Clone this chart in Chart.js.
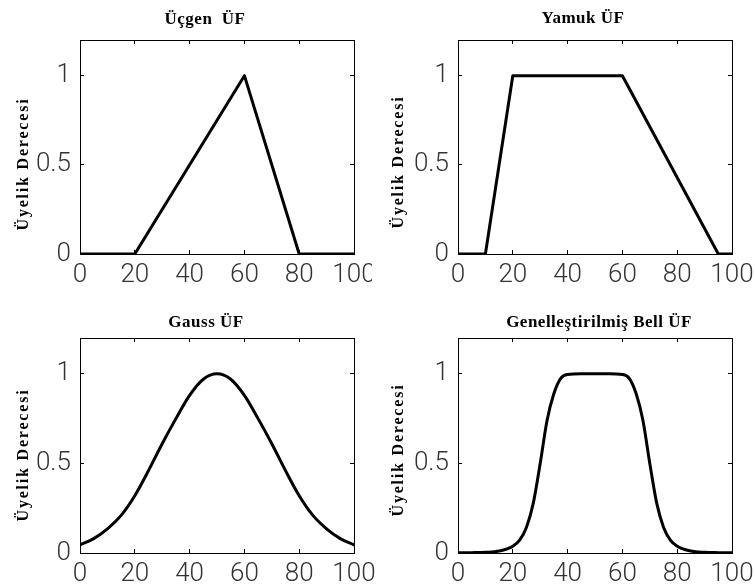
<!DOCTYPE html>
<html lang="tr">
<head>
<meta charset="UTF-8">
<title>Üyelik Fonksiyonları</title>
<script src="https://cdn.jsdelivr.net/npm/chart.js"></script>
<style>
  html, body { margin: 0; padding: 0; background: #fff; }
  body { width: 755px; height: 588px; position: relative; overflow: hidden; }
  .panel { position: absolute; left: 0; top: 0; height: 600px; overflow: hidden; }
  .panel canvas { display: block; }
</style>
</head>
<body>
  <div class="panel" style="width:372px"><canvas id="ucgen" width="800" height="600"></canvas></div>
  <div class="panel" style="width:800px"><canvas id="yamuk" width="800" height="600"></canvas></div>
  <div class="panel" style="width:800px"><canvas id="gauss" width="800" height="600"></canvas></div>
  <div class="panel" style="width:800px"><canvas id="bell" width="800" height="600"></canvas></div>

<script>
  // shared axes
  const xTicks = [0, 20, 40, 60, 80, 100];
  const yTicks = [0, 0.5, 1];

  // triangle MF
  const ucgenX = [0, 20, 60, 80, 100];
  const ucgenY = [0, 0, 1, 0, 0];

  // trapezoid MF
  const yamukX = [0, 10, 20, 60, 95, 100];
  const yamukY = [0, 0, 1, 1, 0, 0];

  // gaussian MF
  const gaussX = [0, 5, 10, 15, 20, 25, 30, 35, 40, 45, 50, 55, 60, 65, 70, 75, 80, 85, 90, 95, 100];
  const gaussY = [0.045, 0.08, 0.135, 0.21, 0.32, 0.46, 0.61, 0.75, 0.88, 0.97, 1,
                  0.97, 0.88, 0.75, 0.61, 0.46, 0.32, 0.21, 0.135, 0.08, 0.045];

  // generalized bell MF
  const bellX = [0, 5, 10, 15, 20, 22.5, 25, 27.5, 30, 32.5, 35, 37.5, 40, 45, 50,
                 55, 60, 62.5, 65, 67.5, 70, 72.5, 75, 77.5, 80, 85, 90, 95, 100];
  const bellY = [0.001, 0.002, 0.004, 0.011, 0.038, 0.072, 0.144, 0.28, 0.5, 0.74, 0.89, 0.975, 0.996, 1, 1,
                 1, 0.996, 0.975, 0.89, 0.74, 0.5, 0.28, 0.144, 0.072, 0.038, 0.011, 0.004, 0.002, 0.001];

  const Y_AXIS_W = 50;
  const X_AXIS_H = 40;

  // title + rotated y label, drawn after the chart
  const panelText = {
    id: 'panelText',
    afterDraw(chart, args, opts) {
      const ctx = chart.ctx;
      ctx.save();
      ctx.fillStyle = '#000';
      ctx.textAlign = 'center';
      ctx.textBaseline = 'alphabetic';
      ctx.font = 'bold 17px "Liberation Serif"';
      ctx.letterSpacing = '0.5px';
      ctx.fillText(opts.title, opts.titleX, opts.titleY);
      ctx.font = 'bold 16px "Liberation Serif"';
      ctx.letterSpacing = '1.8px';
      ctx.translate(opts.labelX, opts.labelY);
      ctx.rotate(-Math.PI / 2);
      ctx.fillText('Üyelik Derecesi', 0, 0);
      ctx.restore();
    }
  };

  function makeScale(position, ticks, min, max, showLabels) {
    const horizontal = position === 'bottom' || position === 'top';
    return {
      type: 'linear',
      position,
      axis: horizontal ? 'x' : 'y',
      min, max,
      bounds: 'data',
      afterBuildTicks: s => { s.ticks = ticks.map(v => ({ value: v })); },
      afterFit: s => {
        if (horizontal) s.height = showLabels ? X_AXIS_H : 0;
        else s.width = showLabels ? Y_AXIS_W : 0;
      },
      border: { display: true, color: '#000', width: 1 },
      grid: { drawOnChartArea: false, drawTicks: true, tickLength: -4, color: '#000', lineWidth: 1 },
      ticks: {
        display: showLabels,
        autoSkip: false,
        maxRotation: 0,
        minRotation: 0,
        padding: horizontal ? 10 : 13,
        color: '#333',
        font: { family: 'Roboto', size: 26, weight: 300 },
        callback: v => String(v)
      }
    };
  }

  const panels = [
    { id: 'ucgen', title: 'Üçgen  ÜF', xs: ucgenX, ys: ucgenY, smooth: false,
      left: 80, right: 354, top: 40, bottom: 254, titleX: 205, titleY: 23.5, labelX: 28, labelY: 164 },
    { id: 'yamuk', title: 'Yamuk ÜF', xs: yamukX, ys: yamukY, smooth: false,
      left: 458, right: 732, top: 40, bottom: 254, titleX: 583, titleY: 23, labelX: 403, labelY: 162 },
    { id: 'gauss', title: 'Gauss ÜF', xs: gaussX, ys: gaussY, smooth: true,
      left: 80, right: 354, top: 338, bottom: 553, titleX: 206, titleY: 327, labelX: 28, labelY: 455 },
    { id: 'bell', title: 'Genelleştirilmiş Bell ÜF', xs: bellX, ys: bellY, smooth: true,
      left: 458, right: 732, top: 338, bottom: 553, titleX: 599, titleY: 327, labelX: 403, labelY: 450 }
  ];

  panels.forEach(p => {
    new Chart(document.getElementById(p.id), {
      type: 'line',
      data: {
        datasets: [{
          data: p.xs.map((x, i) => ({ x, y: p.ys[i] })),
          borderColor: '#000',
          borderWidth: 3,
          pointRadius: 0,
          fill: false,
          cubicInterpolationMode: p.smooth ? 'monotone' : 'default',
          borderJoinStyle: 'round',
          borderCapStyle: 'round'
        }]
      },
      options: {
        responsive: false,
        animation: false,
        events: [],
        layout: {
          padding: {
            left: p.left - Y_AXIS_W,
            right: 800 - p.right,
            top: p.top,
            bottom: 600 - p.bottom - X_AXIS_H
          }
        },
        plugins: {
          legend: { display: false },
          tooltip: { enabled: false },
          panelText: { title: p.title, titleX: p.titleX, titleY: p.titleY, labelX: p.labelX, labelY: p.labelY }
        },
        scales: {
          x: makeScale('bottom', xTicks, 0, 100, true),
          x2: makeScale('top', xTicks, 0, 100, false),
          y: makeScale('left', yTicks, 0, 1.2, true),
          y2: makeScale('right', yTicks, 0, 1.2, false)
        }
      },
      plugins: [panelText]
    });
  });
</script>
</body>
</html>
